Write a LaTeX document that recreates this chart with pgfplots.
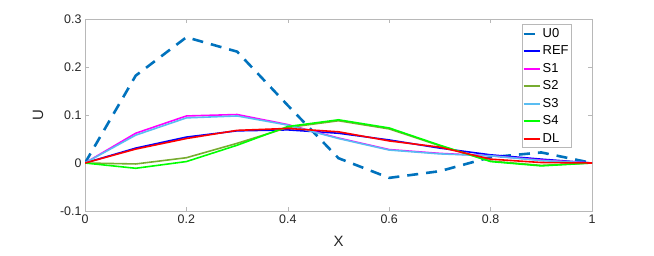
\documentclass[border=0pt]{standalone}
\usepackage{fontspec}
\setmainfont{Liberation Sans}
\usepackage{pgfplots}
\pgfplotsset{compat=1.18}
\definecolor{cU0}{rgb}{0,0.447,0.741}
\definecolor{cREF}{rgb}{0,0,1}
\definecolor{cS1}{rgb}{1,0,1}
\definecolor{cS2}{rgb}{0.466,0.674,0.188}
\definecolor{cS3}{rgb}{0.35,0.74,0.95}
\definecolor{cS4}{rgb}{0,1,0}
\definecolor{cDL}{rgb}{1,0,0}
\definecolor{axgray}{gray}{0.72}
\begin{document}
\begin{tikzpicture}
\useasboundingbox (0,0) rectangle (654bp,256bp);
\begin{axis}[
  at={(85bp,45bp)}, anchor=south west,
  scale only axis, width=507bp, height=192bp,
  xmin=0, xmax=1, ymin=-0.1, ymax=0.3,
  xtick={0,0.2,0.4,0.6,0.8,1},
  ytick={-0.1,0,0.1,0.2,0.3},
  xticklabels={0,0.2,0.4,0.6,0.8,1},
  yticklabels={-0.1,0,0.1,0.2,0.3},
  tick align=inside,
  major tick length=4bp,
  axis line style={axgray, line width=0.6pt},
  tick style={axgray, line width=0.6pt},
  ticklabel style={font=\fontsize{12.5}{14}\selectfont, text=black!85},
  xlabel={X}, ylabel={U},
  label style={font=\fontsize{15}{17}\selectfont, text=black!85},
  xlabel style={yshift=-6bp},
  ylabel style={yshift=10bp},
  legend style={at={(0.862,0.973)}, anchor=north west, draw=axgray,
    font=\fontsize{13}{15}\selectfont, inner xsep=0.5pt, inner ysep=2pt, row sep=3pt,
    /tikz/every odd column/.append style={column sep=0pt},
    /tikz/every even column/.append style={column sep=1pt}},
  legend cell align=left,
  legend image code/.code={\draw[#1, line width=2pt] (0bp,0bp) -- (16bp,0bp);},
]
\addplot[color=cU0, line width=2.6pt, dash pattern=on 11bp off 8bp] coordinates {
(0,0) (0.1,0.182) (0.2,0.262) (0.3,0.232) (0.4,0.12) (0.5,0.01) (0.6,-0.031) (0.7,-0.017) (0.8,0.012) (0.9,0.022) (1,0)};
\addlegendentry{U0}
\addplot[color=cREF, line width=1.6pt] coordinates {
(0,0) (0.1,0.031) (0.2,0.054) (0.3,0.067) (0.4,0.069) (0.5,0.062) (0.6,0.048) (0.7,0.031) (0.8,0.017) (0.9,0.008) (1,0)};
\addlegendentry{REF}
\addplot[color=cS1, line width=1.6pt] coordinates {
(0,0) (0.1,0.062) (0.2,0.098) (0.3,0.101) (0.4,0.08) (0.5,0.052) (0.6,0.028) (0.7,0.02) (0.8,0.015) (0.9,0.006) (1,0)};
\addlegendentry{S1}
\addplot[color=cS2, line width=1.6pt] coordinates {
(0,0) (0.1,-0.002) (0.2,0.011) (0.3,0.041) (0.4,0.074) (0.5,0.088) (0.6,0.071) (0.7,0.036) (0.8,0.004) (0.9,-0.005) (1,0)};
\addlegendentry{S2}
\addplot[color=cS3, line width=1.6pt] coordinates {
(0,0) (0.1,0.058) (0.2,0.094) (0.3,0.098) (0.4,0.079) (0.5,0.051) (0.6,0.027) (0.7,0.019) (0.8,0.015) (0.9,0.005) (1,0)};
\addlegendentry{S3}
\addplot[color=cS4, line width=1.6pt] coordinates {
(0,0) (0.1,-0.011) (0.2,0.003) (0.3,0.037) (0.4,0.076) (0.5,0.09) (0.6,0.073) (0.7,0.037) (0.8,0.003) (0.9,-0.006) (1,0)};
\addlegendentry{S4}
\addplot[color=cDL, line width=1.6pt] coordinates {
(0,0) (0.1,0.029) (0.2,0.051) (0.3,0.068) (0.4,0.072) (0.5,0.065) (0.6,0.046) (0.7,0.033) (0.8,0.008) (0.9,0.001) (1,0)};
\addlegendentry{DL}
\end{axis}
\end{tikzpicture}
\end{document}
